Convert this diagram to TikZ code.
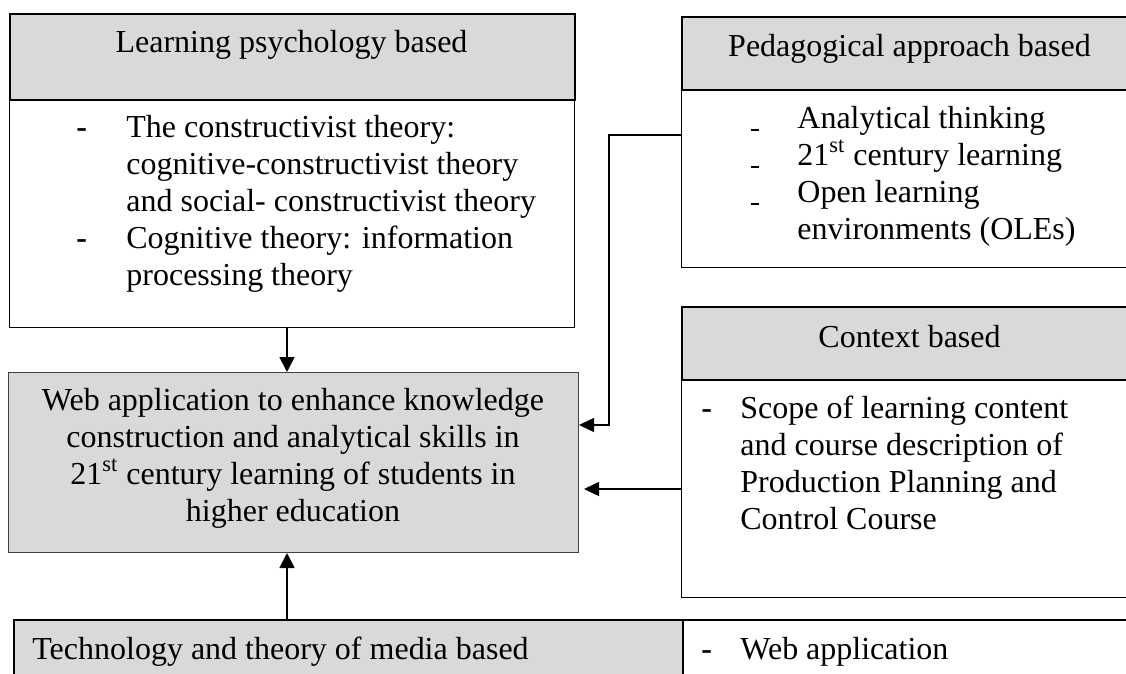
\documentclass[tikz,border=0pt]{standalone}
\usepackage{fontspec}
\setmainfont{Liberation Serif}
\usetikzlibrary{arrows.meta}
\definecolor{cellgray}{HTML}{D9D9D9}
\definecolor{webedge}{HTML}{404040}
\newcommand\bodyfont{\fontsize{16}{18.5}\selectfont}
\newcommand\dashitem[1]{\makebox[#1][l]{\strut\textbf{-}}}
\newcommand\lowdash[1]{\makebox[#1][l]{\strut\rule[-1.2pt]{4pt}{0.75pt}}}
\newcommand\contitem[1]{\makebox[#1][l]{\strut}}
\begin{document}
\begin{tikzpicture}[x=0.5pt,y=-0.5pt,
  hdrbox/.style={draw=black, line width=1pt, fill=cellgray, inner sep=0pt, anchor=north west},
  bodybox/.style={draw=black, line width=0.65pt, fill=white, inner sep=0pt, anchor=north west},
  webbox/.style={draw=webedge, line width=0.5pt, fill=cellgray, inner sep=0pt, anchor=north west},
  txt/.style={font=\bodyfont, inner sep=0pt},
  lst/.style={font=\bodyfont, inner sep=0pt, align=left, anchor=north west},
  arr/.style={line width=0.9pt, -{Triangle[width=7.5pt,length=7.5pt]}},
  conn/.style={line width=0.7pt, -{Triangle[width=7pt,length=7.5pt]}}
]
\useasboundingbox (0,0) rectangle (1126,674);
\clip (0,0) rectangle (1126,674);

% Learning psychology based
\node[bodybox, minimum width=282.5pt, minimum height=114pt] (lpbody) at (9,99) {};
\node[hdrbox, minimum width=282.5pt, minimum height=43pt] (lphdr) at (9,13) {};
\node[txt, anchor=base] (lptitle) at (291.5,53) {Learning psychology based};
\node[lst] (lplist) at (76,{137-25.9}) {%
  \dashitem{25pt}The constructivist theory:\\
  \contitem{25pt}cognitive-constructivist theory\\
  \contitem{25pt}and social- constructivist theory\\
  \dashitem{25pt}Cognitive theory: information\\
  \contitem{25pt}processing theory};

% Pedagogical approach based
\node[bodybox, minimum width=229pt, minimum height=89pt] (pedbody) at (681,89) {};
\node[hdrbox, minimum width=229pt, minimum height=36.5pt] (pedhdr) at (681,16) {};
\node[txt, anchor=base] (pedtitle) at (909.5,57) {Pedagogical approach based};
\node[lst] (pedlist) at (751,{128-25.9}) {%
  \lowdash{23pt}Analytical thinking\\
  \lowdash{23pt}21\textsuperscript{st} century learning\\
  \lowdash{23pt}Open learning\\
  \contitem{23pt}environments (OLEs)};

% Context based
\node[bodybox, minimum width=229pt, minimum height=109pt] (ctxbody) at (681,379) {};
\node[hdrbox, minimum width=229pt, minimum height=36.5pt] (ctxhdr) at (681,306) {};
\node[txt, anchor=base] (ctxtitle) at (909.5,347) {Context based};
\node[lst] (ctxlist) at (701,{418-25.9}) {%
  \dashitem{19.5pt}Scope of learning content\\
  \contitem{19.5pt}and course description of\\
  \contitem{19.5pt}Production Planning and\\
  \contitem{19.5pt}Control Course};

% Central web application box
\node[webbox, minimum width=285pt, minimum height=90pt] (web) at (8,372) {};
\node[txt, align=center, anchor=north] (webtext) at (293,{410-25.9}) {%
  \strut Web application to enhance knowledge\\
  \strut construction and analytical skills in\\
  \strut 21\textsuperscript{st} century learning of students in\\
  \strut higher education};

% Technology and theory of media based
\node[hdrbox, minimum width=334.5pt, minimum height=50pt] (techhdr) at (13,619) {};
\node[bodybox, line width=1pt, minimum width=230pt, minimum height=50pt] (techbody) at (682,619) {};
\node[txt, anchor=base west] (techtitle) at (32,659) {Technology and theory of media based};
\node[txt, anchor=base west] (techlist) at (701,659) {\dashitem{19.5pt}Web application};

% connectors
\coordinate (ax) at (287,0);
\coordinate (pk) at (609,135);
\draw[arr] (lpbody.south -| ax) -- (web.north -| ax);
\draw[arr] (techhdr.north -| ax) -- (web.south -| ax);
\draw[conn] (pedbody.west |- pk) -- (pk) -- (pk |- 0,425) -- (web.east |- 0,425);
\draw[conn] (ctxbody.west |- 0,489) -- ([xshift=2.5pt]web.east |- 0,489);
\end{tikzpicture}
\end{document}
